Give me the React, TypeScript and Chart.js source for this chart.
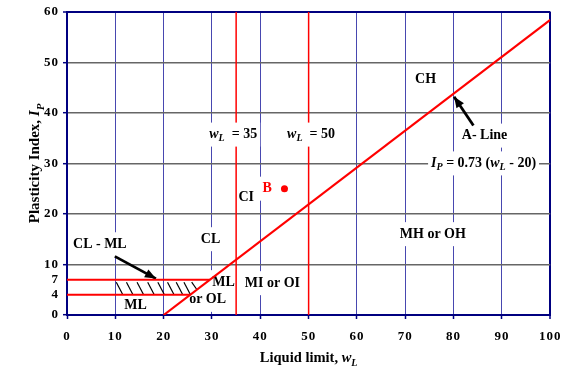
import React, { useEffect, useRef } from 'react';
import { Chart, registerables } from 'chart.js';
Chart.register(...registerables);

// ---------- data ----------
const xTicks = [0, 10, 20, 30, 40, 50, 60, 70, 80, 90, 100];
const yTicks = [0, 4, 7, 10, 20, 30, 40, 50, 60];

const aLineX = [20, 100];
const aLineY = [0, 58.4];
const wL35X = [35, 35];
const wL35Y = [0, 60];
const wL50X = [50, 50];
const wL50Y = [0, 60];
const ip7X = [0, 29.6];
const ip7Y = [7, 7];
const ip4X = [0, 25.5];
const ip4Y = [4, 4];

const hatchTopX = [10.2, 12.3, 14.5, 16.7, 18.8, 20.8, 22.6, 24.2, 25.8];
const hatchTopY = [6.5, 6.5, 6.5, 6.5, 6.5, 6.5, 6.5, 6.5, 6.5];
const hatchBotX = [11.5, 13.6, 15.8, 18.0, 20.1, 22.1, 23.9, 25.5, 26.9];
const hatchBotY = [4.1, 4.1, 4.1, 4.1, 4.1, 4.1, 4.1, 4.1, 5.0];

const arrowALineX = [84.1, 80.1];
const arrowALineY = [37.5, 43.2];
const arrowCLMLX = [9.9, 18.4];
const arrowCLMLY = [11.6, 7.2];

const pointBX = [45];
const pointBY = [25];

const noteText = [
  'CH', 'A- Line', '*I*~P~ = 0.73 (*w*~L~ - 20)', '*w*~L~  = 35', '*w*~L~  = 50',
  'CI', 'B', 'CL', 'MH or OH', 'CL - ML', 'ML', 'MI or OI', 'ML', 'or OL',
];
const noteX = [74.2, 86.4, 86.2, 34.4, 50.5, 37.1, 41.4, 29.7, 75.7, 6.8, 32.4, 42.5, 14.2, 29.1];
const noteY = [46.7, 35.5, 30.0, 35.7, 35.7, 23.3, 25.0, 15.0, 16.0, 14.0, 6.5, 6.3, 2.0, 3.0];
const noteRed = [false, false, false, false, false, false, true, false, false, false, false, false, false, false];
const noteOnTop = [false, false, false, true, true, false, false, false, false, false, false, false, false, false];

const xTitle = 'Liquid limit, *w*~L~';
const yTitle = 'Plasticity Index, *I*~P~';

// ---------- styles ----------
const NAVY = '#000080';
const RED = '#ff0000';
const GRID_V = '#4848b0';
const GRID_H = '#666666';
const FONT = '"Liberation Serif", "Times New Roman", serif';

type Seg = { t: string; it: boolean; sub: boolean };
function parseRich(text: string): Seg[] {
  return text
    .split(/(\*[^*]+\*|~[^~]+~)/)
    .filter((s) => s.length > 0)
    .map((p) => {
      if (p.startsWith('*')) return { t: p.slice(1, -1), it: true, sub: false };
      if (p.startsWith('~')) return { t: p.slice(1, -1), it: true, sub: true };
      return { t: p, it: false, sub: false };
    });
}
function segFont(s: Seg, size: number) {
  return `${s.it ? 'italic ' : ''}bold ${s.sub ? Math.round(size * 0.72) : size}px ${FONT}`;
}
function measureRich(ctx: CanvasRenderingContext2D, text: string, size: number) {
  const segs = parseRich(text);
  let total = 0;
  const widths = segs.map((s) => {
    ctx.font = segFont(s, size);
    const w = ctx.measureText(s.t).width;
    total += w;
    return w;
  });
  return { segs, widths, total };
}
function drawRich(ctx: CanvasRenderingContext2D, text: string, x: number, y: number, size: number, color: string) {
  const { segs, widths, total } = measureRich(ctx, text, size);
  let cx = x - total / 2;
  ctx.fillStyle = color;
  ctx.textAlign = 'left';
  segs.forEach((s, i) => {
    ctx.font = segFont(s, size);
    ctx.fillText(s.t, cx, y + (s.sub ? size * 0.3 : 0));
    cx += widths[i];
  });
  return total;
}

function pts(xs: number[], ys: number[]) {
  return xs.map((x, i) => ({ x, y: ys[i] }));
}

function drawNotes(chart: any, top: boolean) {
  const ctx: CanvasRenderingContext2D = chart.ctx;
  const xs = chart.scales.x;
  const ys = chart.scales.y;
  const a = chart.chartArea;
  const size = 14;
  ctx.save();
  ctx.beginPath();
  ctx.rect(a.left + 2, a.top + 2, a.right - a.left - 4, a.bottom - a.top - 4);
  ctx.clip();
  ctx.textBaseline = 'middle';
  noteText.forEach((t, i) => {
    if (noteOnTop[i] !== top) return;
    const px = xs.getPixelForValue(noteX[i]);
    const py = ys.getPixelForValue(noteY[i]);
    const { total } = measureRich(ctx, t, size);
    ctx.fillStyle = '#fff';
    ctx.fillRect(px - total / 2 - 3, py - 12, total + 6, 24);
    drawRich(ctx, t, px, py, size, noteRed[i] ? RED : '#000');
  });
  ctx.restore();
}

const overlayPlugin = {
  id: 'overlay',
  beforeDraw(chart: any) {
    (chart.ctx as any).letterSpacing = '1px';
  },
  beforeDatasetsDraw(chart: any) {
    (chart.ctx as any).letterSpacing = '0px';
    drawNotes(chart, false);
  },
  afterDatasetsDraw(chart: any) {
    const ctx: CanvasRenderingContext2D = chart.ctx;
    // arrowheads
    chart.data.datasets.forEach((ds: any, i: number) => {
      if (!ds.arrow) return;
      const d = chart.getDatasetMeta(i).data;
      const p0 = d[0];
      const p1 = d[d.length - 1];
      const ang = Math.atan2(p1.y - p0.y, p1.x - p0.x);
      const L = 11;
      const W = 4.5;
      ctx.save();
      ctx.fillStyle = '#000';
      ctx.beginPath();
      ctx.moveTo(p1.x, p1.y);
      ctx.lineTo(p1.x - L * Math.cos(ang) + W * Math.sin(ang), p1.y - L * Math.sin(ang) - W * Math.cos(ang));
      ctx.lineTo(p1.x - L * Math.cos(ang) - W * Math.sin(ang), p1.y - L * Math.sin(ang) + W * Math.cos(ang));
      ctx.closePath();
      ctx.fill();
      ctx.restore();
    });
    drawNotes(chart, true);
  },
  afterDraw(chart: any) {
    const ctx: CanvasRenderingContext2D = chart.ctx;
    const a = chart.chartArea;
    ctx.save();
    (ctx as any).letterSpacing = '0px';
    ctx.textBaseline = 'alphabetic';
    drawRich(ctx, xTitle, (a.left + a.right) / 2, a.bottom + 47, 14.5, '#000');
    ctx.translate(a.left - 28, (a.top + a.bottom) / 2);
    ctx.rotate(-Math.PI / 2);
    drawRich(ctx, yTitle, 0, 0, 15, '#000');
    ctx.restore();
  },
};

export default function App() {
  const ref = useRef<HTMLCanvasElement | null>(null);
  useEffect(() => {
    if (!ref.current) return;
    const redLine = (xs: number[], ys: number[], w: number) => ({
      data: pts(xs, ys),
      showLine: true,
      borderColor: RED,
      borderWidth: w,
      pointRadius: 0,
      fill: false,
    });
    const blackLine = (xs: number[], ys: number[], w: number, arrow = false) => ({
      data: pts(xs, ys),
      showLine: true,
      borderColor: '#000',
      borderWidth: w,
      pointRadius: 0,
      fill: false,
      arrow,
    });
    const datasets: any[] = [
      redLine(wL35X, wL35Y, 1.5),
      redLine(wL50X, wL50Y, 1.5),
      redLine(ip7X, ip7Y, 2),
      redLine(ip4X, ip4Y, 2),
      redLine(aLineX, aLineY, 2.2),
      ...hatchTopX.map((x, i) => blackLine([x, hatchBotX[i]], [hatchTopY[i], hatchBotY[i]], 1.2)),
      blackLine(arrowALineX, arrowALineY, 2.8, true),
      blackLine(arrowCLMLX, arrowCLMLY, 2.8, true),
      {
        data: pts(pointBX, pointBY),
        showLine: false,
        pointRadius: 3.5,
        pointBackgroundColor: RED,
        pointBorderColor: RED,
        borderWidth: 0,
      },
    ];
    const tickFont = { family: FONT, size: 13, weight: 'bold' as const };
    const chart = new Chart(ref.current, {
      type: 'scatter',
      data: { datasets },
      options: {
        animation: false,
        responsive: false,
        events: [],
        layout: { padding: { left: 0, top: 11, right: 18, bottom: 0 } },
        plugins: { legend: { display: false }, tooltip: { enabled: false }, title: { display: false } },
        scales: {
          x: {
            type: 'linear',
            min: 0,
            max: 100,
            afterBuildTicks: (s: any) => {
              s.ticks = xTicks.map((v) => ({ value: v }));
            },
            afterFit: (s: any) => {
              s.height = 55;
            },
            ticks: { font: tickFont, color: '#000', padding: 10, maxRotation: 0, autoSkip: false },
            grid: {
              color: (c: any) => (c.tick && c.tick.value === 100 ? NAVY : GRID_V),
              lineWidth: (c: any) => (c.tick && c.tick.value === 100 ? 2 : 1),
              tickColor: NAVY,
              tickLength: 4,
              tickWidth: 1.5,
            },
            border: { color: NAVY, width: 2 },
          },
          y: {
            type: 'linear',
            min: 0,
            max: 60,
            afterBuildTicks: (s: any) => {
              s.ticks = yTicks.map((v) => ({ value: v }));
            },
            afterFit: (s: any) => {
              s.width = 67;
            },
            ticks: { font: tickFont, color: '#000', padding: 4, autoSkip: false },
            grid: {
              color: (c: any) => {
                const v = c.tick && c.tick.value;
                if (v === 60) return NAVY;
                if (v === 4 || v === 7) return 'rgba(0,0,0,0)';
                return GRID_H;
              },
              lineWidth: (c: any) => (c.tick && c.tick.value === 60 ? 2 : 1.4),
              tickColor: (c: any) => {
                const v = c.tick && c.tick.value;
                return v === 4 || v === 7 ? 'rgba(0,0,0,0)' : NAVY;
              },
              tickLength: 4,
              tickWidth: 1.5,
            },
            border: { color: NAVY, width: 2 },
          },
        },
      },
      plugins: [overlayPlugin],
    } as any);
    return () => chart.destroy();
  }, []);
  return (
    <div style={{ position: 'absolute', left: 0, top: 0, width: 570, height: 370, background: '#fff' }}>
      <canvas ref={ref} width={570} height={370} style={{ display: 'block' }} />
    </div>
  );
}
